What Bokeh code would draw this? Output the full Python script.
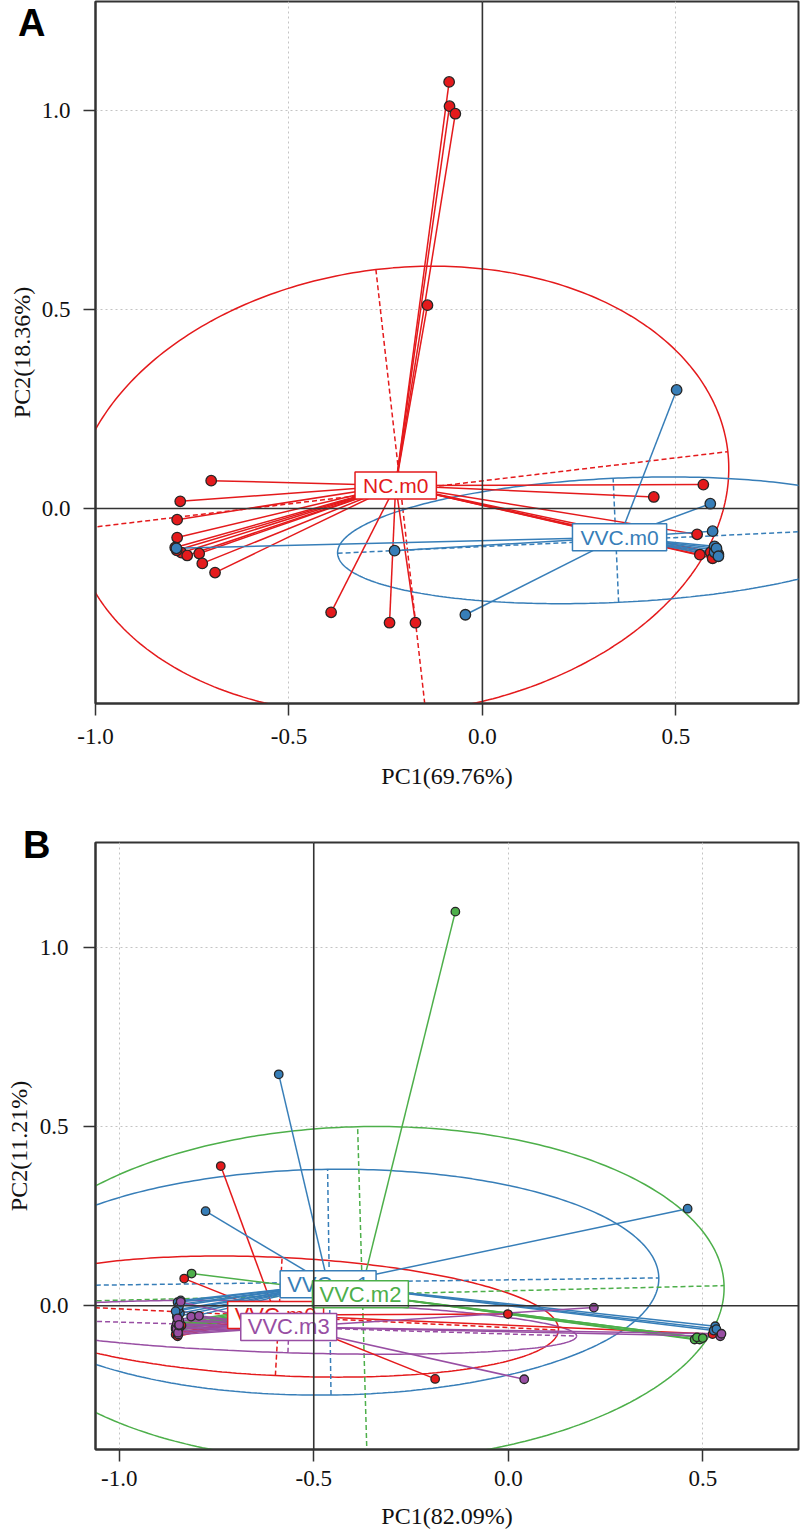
import numpy as np
from bokeh.plotting import figure
from bokeh.models import FixedTicker, PrintfTickFormatter, Span, Range1d, Div
from bokeh.layouts import column
from bokeh.core.properties import value
from bokeh.embed import file_html
from bokeh.resources import INLINE

# ---------------- Panel A data ----------------
a_groups = ["NC.m0", "VVC.m0"]
a_nc_x = [-0.701, -0.781, -0.789, -0.789, -0.794, -0.778, -0.763, -0.732, -0.724, -0.691, -0.790,
          -0.086, -0.085, -0.070, -0.142,
          -0.391, -0.240, -0.173,
          0.571, 0.443, 0.555, 0.562, 0.590, 0.600, 0.595]
a_nc_y = [0.070, 0.018, -0.028, -0.073, -0.098, -0.111, -0.118, -0.113, -0.138, -0.161, -0.105,
          1.072, 1.011, 0.992, 0.511,
          -0.261, -0.287, -0.287,
          0.060, 0.029, -0.065, -0.116, -0.110, -0.120, -0.125]
a_vvc_x = [0.502, 0.589, 0.595, -0.227, -0.044, -0.791,
           0.600, 0.605, 0.610, 0.600, 0.605, 0.610]
a_vvc_y = [0.298, 0.012, -0.057, -0.106, -0.267, -0.100,
           -0.095, -0.105, -0.115, -0.110, -0.100, -0.120]
# ellipses (centre, semi-axes, rotation in degrees)
a_ell_cx = [-0.211, 0.345]
a_ell_cy = [0.045, -0.080]
a_ell_a = [0.851, 0.720]
a_ell_b = [0.559, 0.156]
a_ell_deg = [6.6, 2.6]

# ---------------- Panel B data ----------------
b_groups = ["VVC.m0", "VVC.m1", "VVC.m2", "VVC.m3"]
b_m0_x = [-0.739, -0.833, -0.188, -0.001, 0.525,
          -0.850, -0.848, -0.852, -0.845, -0.855, -0.840, -0.850]
b_m0_y = [0.390, 0.076, -0.204, -0.023, -0.079,
          -0.050, -0.065, -0.075, -0.060, -0.080, -0.055, -0.085]
b_m1_x = [-0.590, -0.778, 0.461, 0.532, 0.528, 0.535,
          -0.844, -0.847, -0.850, -0.848, -0.852, -0.846, -0.850, -0.855, -0.842]
b_m1_y = [0.646, 0.264, 0.271, -0.057, -0.069, -0.065,
          -0.021, 0.004, 0.010, -0.010, -0.030, 0.000, -0.040, -0.015, 0.015]
b_m2_x = [-0.136, -0.814, 0.479, 0.492, 0.485, 0.500,
          -0.848, -0.852, -0.845, -0.850, -0.855, -0.846, -0.851]
b_m2_y = [1.100, 0.090, -0.094, -0.094, -0.088, -0.090,
          -0.045, -0.055, -0.060, -0.050, -0.065, -0.058, -0.070]
b_m3_x = [0.220, 0.041, 0.545, 0.548,
          -0.842, -0.855, -0.850, -0.848, -0.852, -0.846, -0.853, -0.849, -0.815, -0.847, -0.795, -0.850, -0.846]
b_m3_y = [-0.005, -0.205, -0.085, -0.078,
          0.011, -0.060, -0.070, -0.080, -0.050, -0.040, -0.065, -0.075, -0.030, -0.055, -0.028, -0.035, -0.053]
b_ell_cx = [-0.590, -0.460, -0.375, -0.564]
b_ell_cy = [-0.030, 0.066, 0.032, -0.060]
b_ell_a = [0.720, 0.847, 0.930, 0.740]
b_ell_b = [0.165, 0.315, 0.468, 0.071]
b_ell_deg = [-3.0, 0.8, 1.5, -1.9]

x_ticks = [-1.0, -0.5, 0.0, 0.5]
y_ticks = [0.0, 0.5, 1.0]
panel_letters = ["A", "B"]

RED, BLUE, GREEN, PURPLE = "#E41A1C", "#377EB8", "#4DAF4A", "#984EA3"
SERIF = "Liberation Serif"
SANS = "Liberation Sans"


def make_panel(groups, xs, ys, ells, colors, xr, yr, xlabel, ylabel, cross,
               width, height, mb, pt_size, lab_pad, lab_font, axis_st):
    p = figure(width=width, height=height, x_range=Range1d(*xr), y_range=Range1d(*yr),
               output_backend="svg", toolbar_location=None, title=None,
               min_border_left=mb[0], min_border_right=mb[1], min_border_top=mb[2],
               min_border_bottom=mb[3])
    p.background_fill_color = "white"
    p.border_fill_color = "white"
    p.outline_line_color = "#333333"
    p.outline_line_width = 2

    for ax, ticks in ((p.xaxis[0], x_ticks), (p.yaxis[0], y_ticks)):
        ax.ticker = FixedTicker(ticks=ticks)
        ax.formatter = PrintfTickFormatter(format="%.1f")
        ax.axis_line_color = "#333333"
        ax.axis_line_width = 2
        ax.major_tick_out = 12
        ax.major_tick_in = 0
        ax.minor_tick_line_color = None
        ax.major_tick_line_color = "#333333"
        ax.major_tick_line_width = 1.5
        ax.major_label_text_font = SERIF
        ax.major_label_text_font_size = "23px"
        ax.major_label_text_color = "#111111"
        ax.axis_label_text_font = SERIF
        ax.axis_label_text_font_size = "24px"
        ax.axis_label_text_font_style = "normal"
        ax.axis_label_text_color = "#111111"
    p.xaxis.axis_label = xlabel
    p.yaxis.axis_label = ylabel
    p.xaxis.major_label_standoff = axis_st[0]
    p.xaxis.axis_label_standoff = axis_st[1]
    p.yaxis.major_label_standoff = axis_st[2]
    p.yaxis.axis_label_standoff = axis_st[3]

    for g in (p.xgrid[0], p.ygrid[0]):
        g.grid_line_color = "#c4c4c4"
        g.grid_line_dash = "2 3"
        g.grid_line_width = 1
    p.xgrid[0].ticker = FixedTicker(ticks=x_ticks)
    p.ygrid[0].ticker = FixedTicker(ticks=y_ticks)

    p.add_layout(Span(location=cross[0], dimension="height", line_color="#333333", line_width=1.6))
    p.add_layout(Span(location=cross[1], dimension="width", line_color="#333333", line_width=1.6))

    # ellipses with their axes
    t = np.linspace(0, 2 * np.pi, 361)
    for (cx, cy, a, b, deg), col in zip(ells, colors):
        th = np.deg2rad(deg)
        ex = cx + a * np.cos(t) * np.cos(th) - b * np.sin(t) * np.sin(th)
        ey = cy + a * np.cos(t) * np.sin(th) + b * np.sin(t) * np.cos(th)
        p.line(ex, ey, line_color=col, line_width=1.5)
        p.segment(x0=[cx - a * np.cos(th), cx + b * np.sin(th)],
                  y0=[cy - a * np.sin(th), cy - b * np.cos(th)],
                  x1=[cx + a * np.cos(th), cx - b * np.sin(th)],
                  y1=[cy + a * np.sin(th), cy + b * np.cos(th)],
                  line_color=col, line_width=1.5, line_dash="5 3")

    cents = []
    for gx, gy, col in zip(xs, ys, colors):
        cx, cy = float(np.mean(gx)), float(np.mean(gy))
        cents.append((cx, cy))
        p.segment(x0=[cx] * len(gx), y0=[cy] * len(gy), x1=gx, y1=gy,
                  line_color=col, line_width=1.5)
    for gx, gy, col in zip(xs, ys, colors):
        p.scatter(gx, gy, size=pt_size, fill_color=col, line_color="#262626", line_width=1.3)

    for (cx, cy), name, col in zip(cents, groups, colors):
        p.text(x=[cx], y=[cy], text=[name], text_font=value(SANS), text_font_size=lab_font,
               text_color=col, text_align="center", text_baseline="middle",
               background_fill_color="white", border_line_color=col, border_line_width=1.5,
               padding=lab_pad)
    return p


pA = make_panel(a_groups, [a_nc_x, a_vvc_x], [a_nc_y, a_vvc_y],
                list(zip(a_ell_cx, a_ell_cy, a_ell_a, a_ell_b, a_ell_deg)),
                [RED, BLUE], (-1.0, 0.817), (-0.490, 1.274),
                "PC1(69.76%)", "PC2(18.36%)", (0.0, 0.0),
                800, 795, (93, 2, 1, 92), 10.5, dict(left=8, right=8, top=2, bottom=2), "21px",
                (13, 16, 13, 4))

pB = make_panel(b_groups, [b_m0_x, b_m1_x, b_m2_x, b_m3_x], [b_m0_y, b_m1_y, b_m2_y, b_m3_y],
                list(zip(b_ell_cx, b_ell_cy, b_ell_a, b_ell_b, b_ell_deg)),
                [RED, BLUE, GREEN, PURPLE], (-1.061, 0.746), (-0.401, 1.293),
                "PC1(82.09%)", "PC2(11.21%)", (-0.5, 0.0),
                800, 741, (95, 1, 47, 87), 8.5, dict(left=7, right=7, top=1, bottom=1), "22px",
                (9, 14, 15, 5))

letter_html = (
    '<div style="position:absolute;left:13px;top:-1px;font-family:\'Liberation Sans\';'
    'font-weight:bold;font-size:38px;line-height:1;color:#000;">%s</div>'
    '<div style="position:absolute;left:18px;top:821px;font-family:\'Liberation Sans\';'
    'font-weight:bold;font-size:38px;line-height:1;color:#000;">%s</div>'
) % tuple(panel_letters)
letters = Div(text=letter_html, width=800, height=0,
              styles={"position": "absolute", "left": "0px", "top": "0px",
                      "z-index": "10", "overflow": "visible"})

layout = column(letters, pA, pB, spacing=0)
open("out.html", "w").write(file_html(layout, INLINE))
